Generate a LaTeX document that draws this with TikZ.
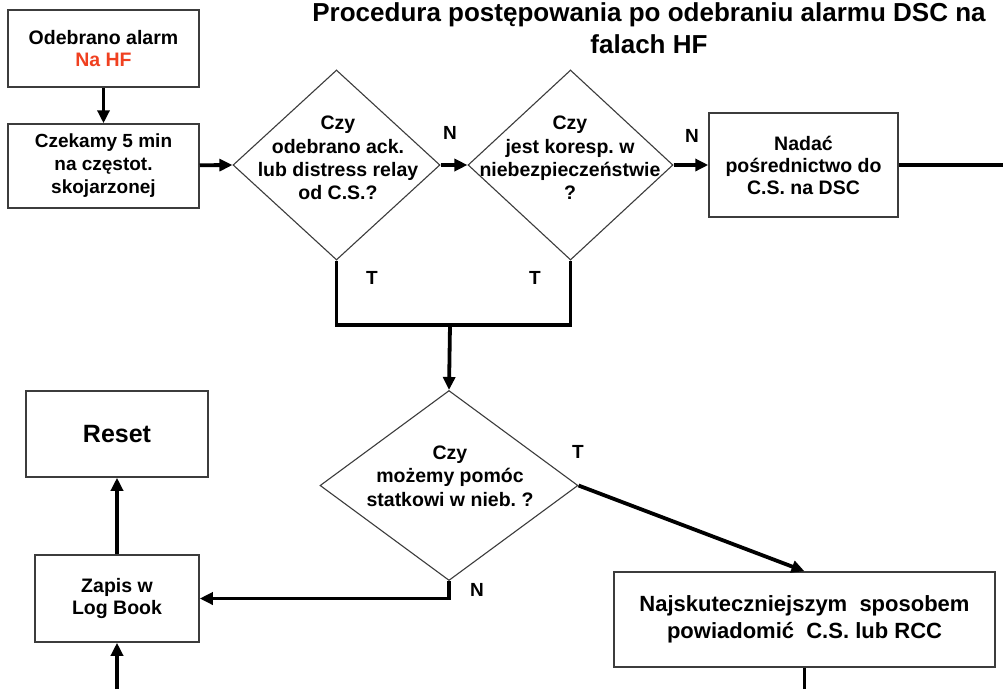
\documentclass[tikz,border=0pt]{standalone}
\usepackage{fontspec}
\setmainfont{Liberation Sans}
\usetikzlibrary{shapes.geometric,arrows.meta}
\definecolor{alarmred}{RGB}{240,64,32}
\definecolor{frame}{RGB}{60,60,60}
\frenchspacing
\begin{document}
\begin{tikzpicture}[x=1pt,y=-1pt,
  box/.style={draw=frame,line width=1.5pt,fill=white,inner sep=0pt,align=center,
    font=\bfseries\fontsize{19.5}{22}\selectfont},
  decision/.style={diamond,draw=frame,line width=1.1pt,inner sep=0pt},
  qtext/.style={align=center,inner sep=0pt,font=\bfseries\fontsize{19.5}{23.3}\selectfont},
  flow/.style={line width=3.8pt},
  arrow/.style={flow,-{Triangle[length=13pt,width=12pt]}},
  tag/.style={font=\bfseries\fontsize{19}{19}\selectfont,inner sep=0pt}
]
\fill[white] (0,0) rectangle (1003,689);
\useasboundingbox (0,0) rectangle (1003,689);

% heading
\node[font=\bfseries\fontsize{26}{32}\selectfont,align=center,inner sep=0pt] (title)
  at (649,28) {Procedura postępowania po odebraniu alarmu DSC na\\falach HF};

% boxes
\node[box,minimum width=191pt,minimum height=77pt] (start) at (103.5,48.5)
  {Odebrano alarm\\\textcolor{alarmred}{Na HF}};
\node[box,minimum width=191pt,minimum height=84pt,font=\bfseries\fontsize{19}{23}\selectfont]
  (wait) at (103.5,166)
  {Czekamy 5 min\\na częstot.\\skojarzonej};
\node[box,minimum width=189pt,minimum height=104pt] (relay) at (803.5,165)
  {Nadać\\pośrednictwo do\\C.S. na DSC};
\node[box,minimum width=182pt,minimum height=86pt,font=\bfseries\fontsize{25}{28}\selectfont]
  (reset) at (117,434) {Reset};
\node[box,minimum width=164pt,minimum height=87pt] (log) at (117,598.5)
  {Zapis w\\Log Book};
\node[box,minimum width=381pt,minimum height=95pt,font=\bfseries\fontsize{22}{27}\selectfont]
  (notify) at (804.5,619.5)
  {Najskuteczniejszym\ \ sposobem\\powiadomić\ \ C.S. lub RCC};

% decisions
\node[decision,minimum width=207pt,minimum height=190pt] (q1) at (336.5,165) {};
\node[qtext] (q1t) at (338,158) {Czy\\odebrano ack.\\lub distress relay\\od C.S.?};
\node[decision,minimum width=205pt,minimum height=190pt] (q2) at (570.5,165) {};
\node[qtext] (q2t) at (570,158) {Czy\\jest koresp. w\\niebezpieczeństwie\\?};
\node[decision,minimum width=258pt,minimum height=190pt] (q3) at (449,485.5) {};
\node[qtext] (q3t) at (450,476) {Czy\\możemy pomóc\\statkowi w nieb. ?};

% free ends
\coordinate (rightend) at (1003,165);
\coordinate (merge) at (450,325);
\coordinate (login) at (117,689);
\coordinate (notifyout) at (804.5,689);

% connectors
\draw[arrow] (start) -- (wait);
\draw[arrow] (wait) -- (q1.west);
\draw[arrow] (q1.east) -- (q2.west);
\draw[arrow] (q2.east) -- (relay.west);
\draw[flow] (relay.east) -- (rightend);
\draw[flow] (q1.south) |- (merge) -| (q2.south);
\draw[arrow] (merge) -- (q3.north);
\draw[arrow] (q3.east) -- (notify.north);
\draw[arrow] (q3.south) |- (log.east);
\draw[arrow] (log) -- (reset);
\draw[arrow] (login) -- (log.south);
\draw[flow] (notify.south) -- (notifyout);

% branch labels
\node[tag] (n1) at (450,133) {N};
\node[tag] (n2) at (692,136) {N};
\node[tag] (t1) at (372,278) {T};
\node[tag] (t2) at (535,278) {T};
\node[tag] (t3) at (578,452) {T};
\node[tag] (n3) at (477,590) {N};
\end{tikzpicture}
\end{document}
